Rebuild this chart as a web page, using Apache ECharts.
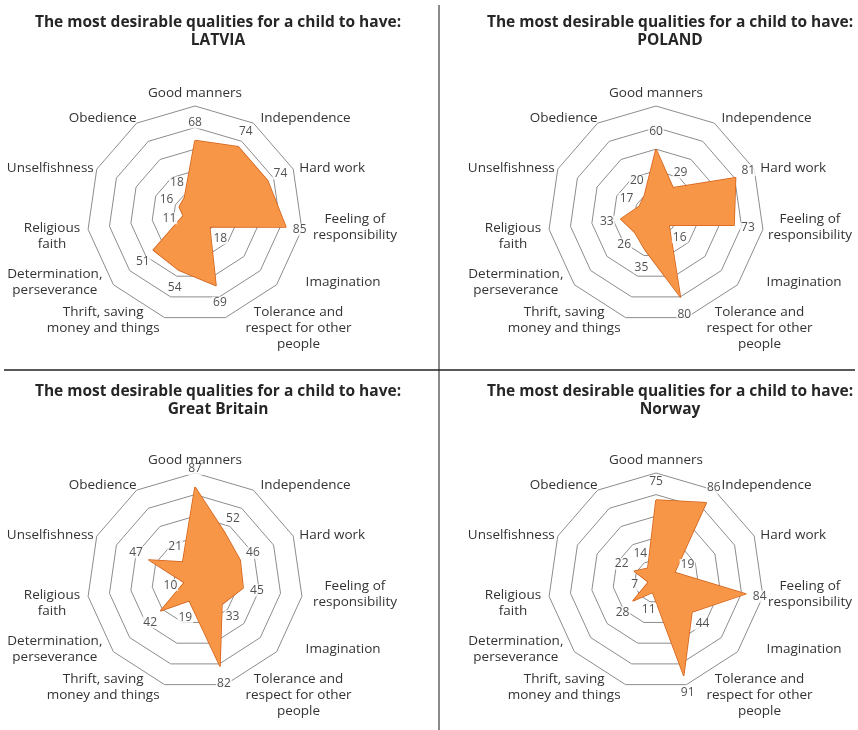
<!DOCTYPE html>
<html>
<head>
<meta charset="utf-8">
<script src="https://cdn.jsdelivr.net/npm/echarts@6/dist/echarts.min.js"></script>
<style>
  html, body { margin: 0; padding: 0; background: #fff; }
  #chart { width: 858px; height: 730px; }
</style>
</head>
<body>
<div id="chart"></div>
<script>
// qualities, clockwise from the top
const qualities = [
  "Good manners",
  "Independence",
  "Hard work",
  "Feeling of\nresponsibility",
  "Imagination",
  "Tolerance and\nrespect for other\npeople",
  "Thrift, saving\nmoney and things",
  "Determination,\nperseverance",
  "Religious\nfaith",
  "Unselfishness",
  "Obedience"
];
const countries = ["LATVIA", "POLAND", "Great Britain", "Norway"];
const latvia = [68, 74, 74, 85, 18, 69, 54, 51, 11, 16, 18];
const poland = [60, 29, 81, 73, 16, 80, 35, 26, 33, 17, 20];
const britain = [87, 52, 46, 45, 33, 82, 19, 42, 10, 47, 21];
const norway = [75, 86, 19, 84, 44, 91, 11, 28, 7, 22, 14];

// nudges for the quality names (padding top, right, bottom, left)
const namePadLeft = [
  [0, 0, 5, 0], [0, 0, 10, 7], [0, 0, 2, 6], [0, 0, 5, 11], [0, 0, 5, 29],
  [21, 0, 0, 20], [5, 5, 0, 0], [0, 11, 5, 0], [13, 8, 0, 0], [0, 3, 2, 0], [0, 0, 10, 0]
];
// right-hand panels sit against the edge, "Feeling of responsibility" is pulled in
const namePadRight = [
  [0, 0, 5, 0], [0, 0, 10, 7], [0, 0, 2, 6], [0, 0, 5, 5], [0, 0, 5, 29],
  [21, 0, 0, 20], [5, 5, 0, 0], [0, 11, 5, 0], [13, 8, 0, 0], [0, 3, 2, 0], [0, 0, 10, 0]
];

const allValues = [latvia, poland, britain, norway];
const panelPads = [namePadLeft, namePadRight, namePadLeft, namePadRight];
const centers = [[195, 214], [656, 214], [195, 581], [656, 581]];
const titleX = [213, 665, 213, 665];
const titleY = [9, 9, 378, 378];
const R = 108;
const font = "Open Sans";

// echarts radar runs counter-clockwise, so flip the order after the first
const order = [0];
for (let i = qualities.length - 1; i > 0; i--) order.push(i);

// one rich style per line of each name so the nudges apply once
function makeRich(pads) {
  const rich = {};
  qualities.forEach(function (q, i) {
    const lines = q.split("\n");
    const p = pads[i];
    lines.forEach(function (l, j) {
      const top = j === 0 ? p[0] : 0;
      const bottom = j === lines.length - 1 ? p[2] : 0;
      rich["q" + i + "l" + j] = {
        align: "center", fontFamily: font, fontSize: 13.5, color: "#333",
        padding: [top, p[1], bottom, p[3]],
        lineHeight: 16 + top + bottom
      };
    });
  });
  return rich;
}
function nameText(name) {
  const i = qualities.indexOf(name);
  return name.split("\n").map((l, j) => "{q" + i + "l" + j + "|" + l + "}").join("\n");
}

const chart = echarts.init(document.getElementById("chart"));

const radars = [], polars = [], series = [], titles = [];
allValues.forEach(function (vals, k) {
  titles.push({
    text: "The most desirable qualities for a child to have:\n" + countries[k],
    left: titleX[k],
    top: titleY[k],
    textAlign: "center",
    textStyle: { fontFamily: font, fontSize: 15.5, fontWeight: "bold", color: "#262626", lineHeight: 18 }
  });
  radars.push({
    center: centers[k],
    radius: R,
    startAngle: 90,
    splitNumber: 5,
    shape: "polygon",
    nameGap: 0,
    indicator: order.map(i => ({ name: qualities[i], min: 0, max: 100 })),
    axisLine: { show: false },
    axisTick: { show: false },
    splitArea: { show: false },
    splitLine: { lineStyle: { color: "#8c8c8c", width: 1 } },
    axisName: {
      color: "#333",
      fontFamily: font,
      fontSize: 13.5,
      formatter: nameText,
      rich: makeRich(panelPads[k])
    }
  });
  polars.push({ center: centers[k], radius: R });
  series.push({
    type: "radar",
    radarIndex: k,
    symbol: "none",
    silent: true,
    lineStyle: { color: "#D2601A", width: 1.5 },
    areaStyle: { color: "#F79646", opacity: 1 },
    data: [{ value: order.map(i => vals[i]) }]
  });
  series.push({
    type: "scatter",
    coordinateSystem: "polar",
    polarIndex: k,
    symbolSize: 0,
    z: 5,
    silent: true,
    label: {
      show: true,
      position: "inside",
      formatter: p => p.value[0],
      fontFamily: font,
      fontSize: 12,
      color: "#262626",
      backgroundColor: "#fff",
      padding: [0, 1]
    },
    data: vals.map(function (v, i) {
      const a = i * 2 * Math.PI / qualities.length;
      return { value: [v, i], label: { offset: [14 * Math.sin(a), -18 * Math.cos(a)] } };
    })
  });
});

chart.setOption({
  animation: false,
  title: titles,
  radar: radars,
  polar: polars,
  angleAxis: polars.map((p, k) => ({
    polarIndex: k,
    type: "category",
    data: qualities.map((q, i) => i),
    boundaryGap: false,
    startAngle: 90,
    clockwise: true,
    show: false
  })),
  radiusAxis: polars.map((p, k) => ({ polarIndex: k, type: "value", min: 0, max: 100, show: false })),
  graphic: [
    { type: "line", shape: { x1: 439, y1: 5, x2: 439, y2: 730 }, style: { stroke: "#8a8a8a", lineWidth: 2 } },
    { type: "line", shape: { x1: 4, y1: 370, x2: 855, y2: 370 }, style: { stroke: "#222", lineWidth: 1.5 } }
  ],
  series: series
});
</script>
</body>
</html>
